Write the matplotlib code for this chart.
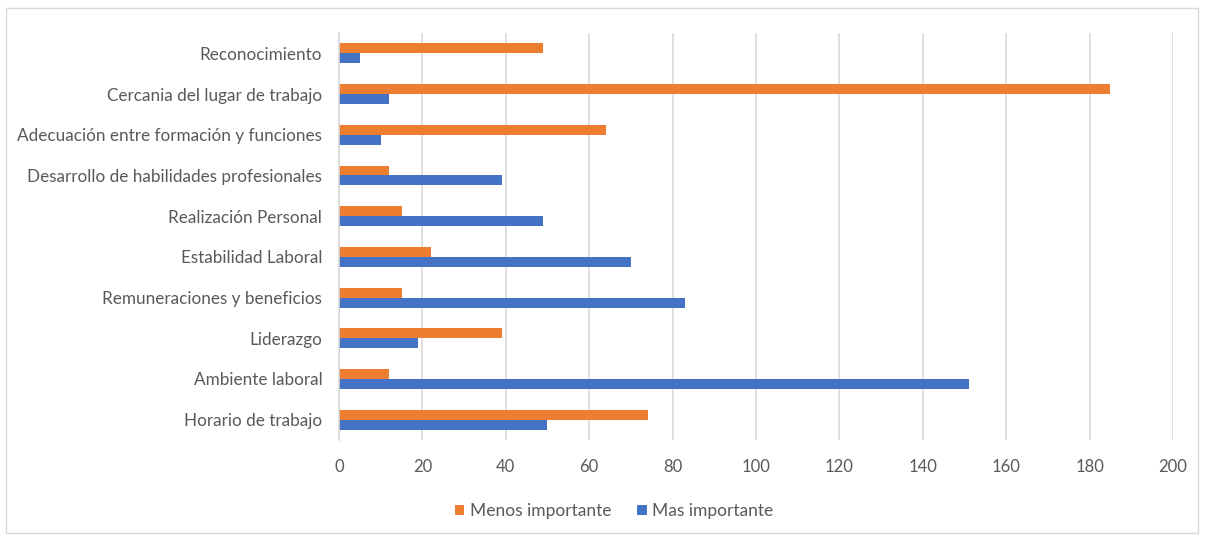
import matplotlib.pyplot as plt
import numpy as np
from matplotlib.patches import Rectangle

# categories from bottom to top
categorias = ["Horario de trabajo", "Ambiente laboral", "Liderazgo",
              "Remuneraciones y beneficios", "Estabilidad Laboral",
              "Realización Personal", "Desarrollo de habilidades profesionales",
              "Adecuación entre formación y funciones",
              "Cercania del lugar de trabajo", "Reconocimiento"]
menos_importante = [74, 12, 39, 15, 22, 15, 12, 64, 185, 49]
mas_importante = [50, 151, 19, 83, 70, 49, 39, 10, 12, 5]
ticks_x = list(range(0, 201, 20))

plt.rcParams["font.family"] = ["Lato", "DejaVu Sans"]
texto = "#595959"
gris = "#D9D9D9"

fig = plt.figure(figsize=(12.06, 5.39), dpi=100)
ax = fig.add_axes([0.2811, 0.1837, 0.6915, 0.755])

y = np.arange(len(categorias))
h = 0.245
ax.barh(y + h / 2, menos_importante, height=h, color="#ED7D31", label="Menos importante")
ax.barh(y - h / 2, mas_importante, height=h, color="#4472C4", label="Mas importante")

ax.set_xlim(0, 200)
ax.set_ylim(-0.5, len(categorias) - 0.5)
ax.set_xticks(ticks_x)
ax.set_yticks(y)
ax.set_yticklabels(categorias, fontsize=12.3)
ax.tick_params(axis="x", labelsize=12, pad=14)
ax.tick_params(length=0, labelcolor=texto)
ax.tick_params(axis="y", pad=12)
ax.grid(axis="x", color=gris, linewidth=1.2)
ax.set_axisbelow(True)
for s in ["top", "right", "bottom"]:
    ax.spines[s].set_visible(False)
ax.spines["left"].set_color(gris)
ax.spines["left"].set_linewidth(1.2)

leg = fig.legend(loc="center", bbox_to_anchor=(614 / 1206, 1 - 511 / 539), ncol=2,
                 frameon=False, fontsize=12.5, handlelength=0.55, handleheight=0.55,
                 handletextpad=0.3, columnspacing=1.5)
for t in leg.get_texts():
    t.set_color(texto)

fig.patches.append(Rectangle((6 / 1206, 6 / 539), 1192 / 1206, 525 / 539,
                             transform=fig.transFigure, fill=False,
                             edgecolor=gris, linewidth=1))

fig.savefig("out.png", dpi=100)
